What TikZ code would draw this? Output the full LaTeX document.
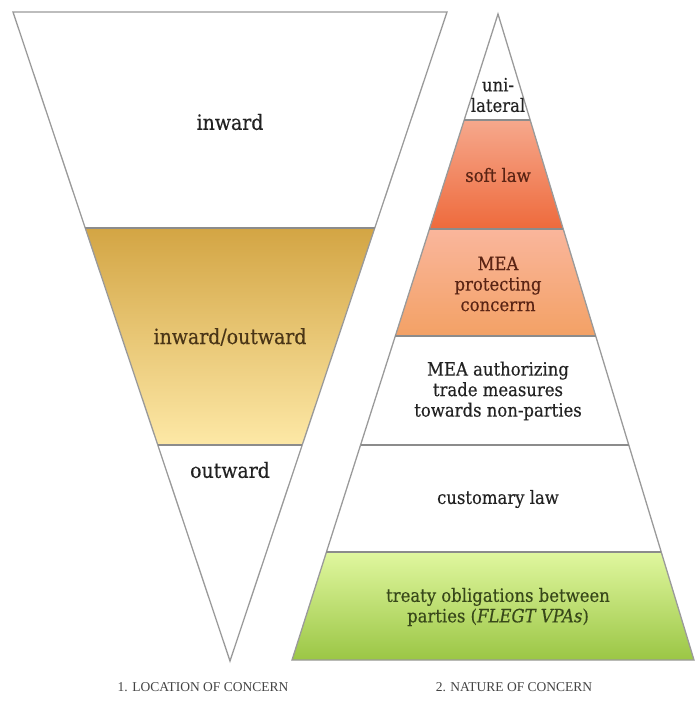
\documentclass[tikz,border=0pt]{standalone}
\usepackage{fontspec}
\setmainfont{DejaVu Serif Condensed}[FakeBold=0.35]
\newfontfamily\capfont{Liberation Serif}
\usetikzlibrary{calc}
\definecolor{edgegray}{HTML}{9A9A9A}
\definecolor{sepgray}{HTML}{8C8C8C}
\definecolor{goldtop}{HTML}{D3A544}
\definecolor{goldbot}{HTML}{FDE8A6}
\definecolor{softtop}{HTML}{F6A88C}
\definecolor{softbot}{HTML}{EE6A3C}
\definecolor{meatop}{HTML}{FAB69C}
\definecolor{meabot}{HTML}{F3A165}
\definecolor{greentop}{HTML}{E0F79F}
\definecolor{greenbot}{HTML}{9BC645}
\definecolor{txtdark}{HTML}{222222}
\definecolor{txtbrown}{HTML}{4A3517}
\definecolor{txtred}{HTML}{5A2414}
\definecolor{txtgreen}{HTML}{38481A}
\tikzset{
  lbl/.style={align=center, font=\fontsize{18.3}{20.5}\selectfont, inner sep=0pt},
  biglbl/.style={align=center, font=\fontsize{21}{24}\selectfont, inner sep=0pt},
  caplbl/.style={font=\capfont\fontsize{13.5}{15}\selectfont, text=txtdark!85, inner sep=0pt},
  outline/.style={draw=edgegray, line width=1.3pt, line join=miter},
  sepline/.style={draw=sepgray, line width=1.2pt}
}
\begin{document}
\begin{tikzpicture}[x=1pt,y=-1pt]
\useasboundingbox (0,0) rectangle (695,722);
% ---------- left inverted triangle ----------
\coordinate (LTL) at (13,12);
\coordinate (LTR) at (447,12);
\coordinate (LA) at (230,661);
\coordinate (L1l) at ($(LTL)!0.3328!(LA)$);
\coordinate (L1r) at ($(LTR)!0.3328!(LA)$);
\coordinate (L2l) at ($(LTL)!0.6672!(LA)$);
\coordinate (L2r) at ($(LTR)!0.6672!(LA)$);
\shade[top color=goldtop, bottom color=goldbot] (L1l) -- (L1r) -- (L2r) -- (L2l) -- cycle;
\draw[outline] (LTL) -- (LTR) -- (LA) -- cycle;
\draw[sepline] (L1l) -- (L1r);
\draw[sepline] (L2l) -- (L2r);
\node[biglbl, text=txtdark] (inw) at (230,122) {inward};
\node[biglbl, text=txtbrown] (inout) at (230,337) {inward/outward};
\node[biglbl, text=txtdark] (outw) at (230,470) {outward};
% ---------- right pyramid ----------
\coordinate (RA) at (498,14);
\coordinate (RBL) at (292,660);
\coordinate (RBR) at (694,660);
\foreach \i/\t in {1/0.1641,2/0.3328,3/0.4985,4/0.6672,5/0.8328}{
  \coordinate (R\i l) at ($(RA)!\t!(RBL)$);
  \coordinate (R\i r) at ($(RA)!\t!(RBR)$);
}
\shade[top color=softtop, bottom color=softbot] (R1l) -- (R1r) -- (R2r) -- (R2l) -- cycle;
\shade[top color=meatop, bottom color=meabot] (R2l) -- (R2r) -- (R3r) -- (R3l) -- cycle;
\shade[top color=greentop, bottom color=greenbot] (R5l) -- (R5r) -- (RBR) -- (RBL) -- cycle;
\draw[outline] (RA) -- (RBR) -- (RBL) -- cycle;
\foreach \i in {1,...,5}{ \draw[sepline] (R\i l) -- (R\i r); }
\node[lbl, text=txtdark] (uni) at (498,95) {uni-\\lateral};
\node[lbl, text=txtred] (soft) at (498,175) {soft law};
\node[lbl, text=txtred] (meap) at (498,284) {MEA\\protecting\\concerrn};
\node[lbl, text=txtdark] (meaa) at (498,391) {MEA authorizing\\trade measures\\towards non-parties};
\node[lbl, text=txtdark] (cust) at (498,499) {customary law};
\node[lbl, text=txtgreen] (treaty) at (498,607) {treaty obligations between\\parties (\textit{FLEGT VPAs})};
% ---------- captions ----------
\node[caplbl] (cap1) at (203,687) {1. LOCATION OF CONCERN};
\node[caplbl] (cap2) at (514,687) {2. NATURE OF CONCERN};
\end{tikzpicture}
\end{document}
